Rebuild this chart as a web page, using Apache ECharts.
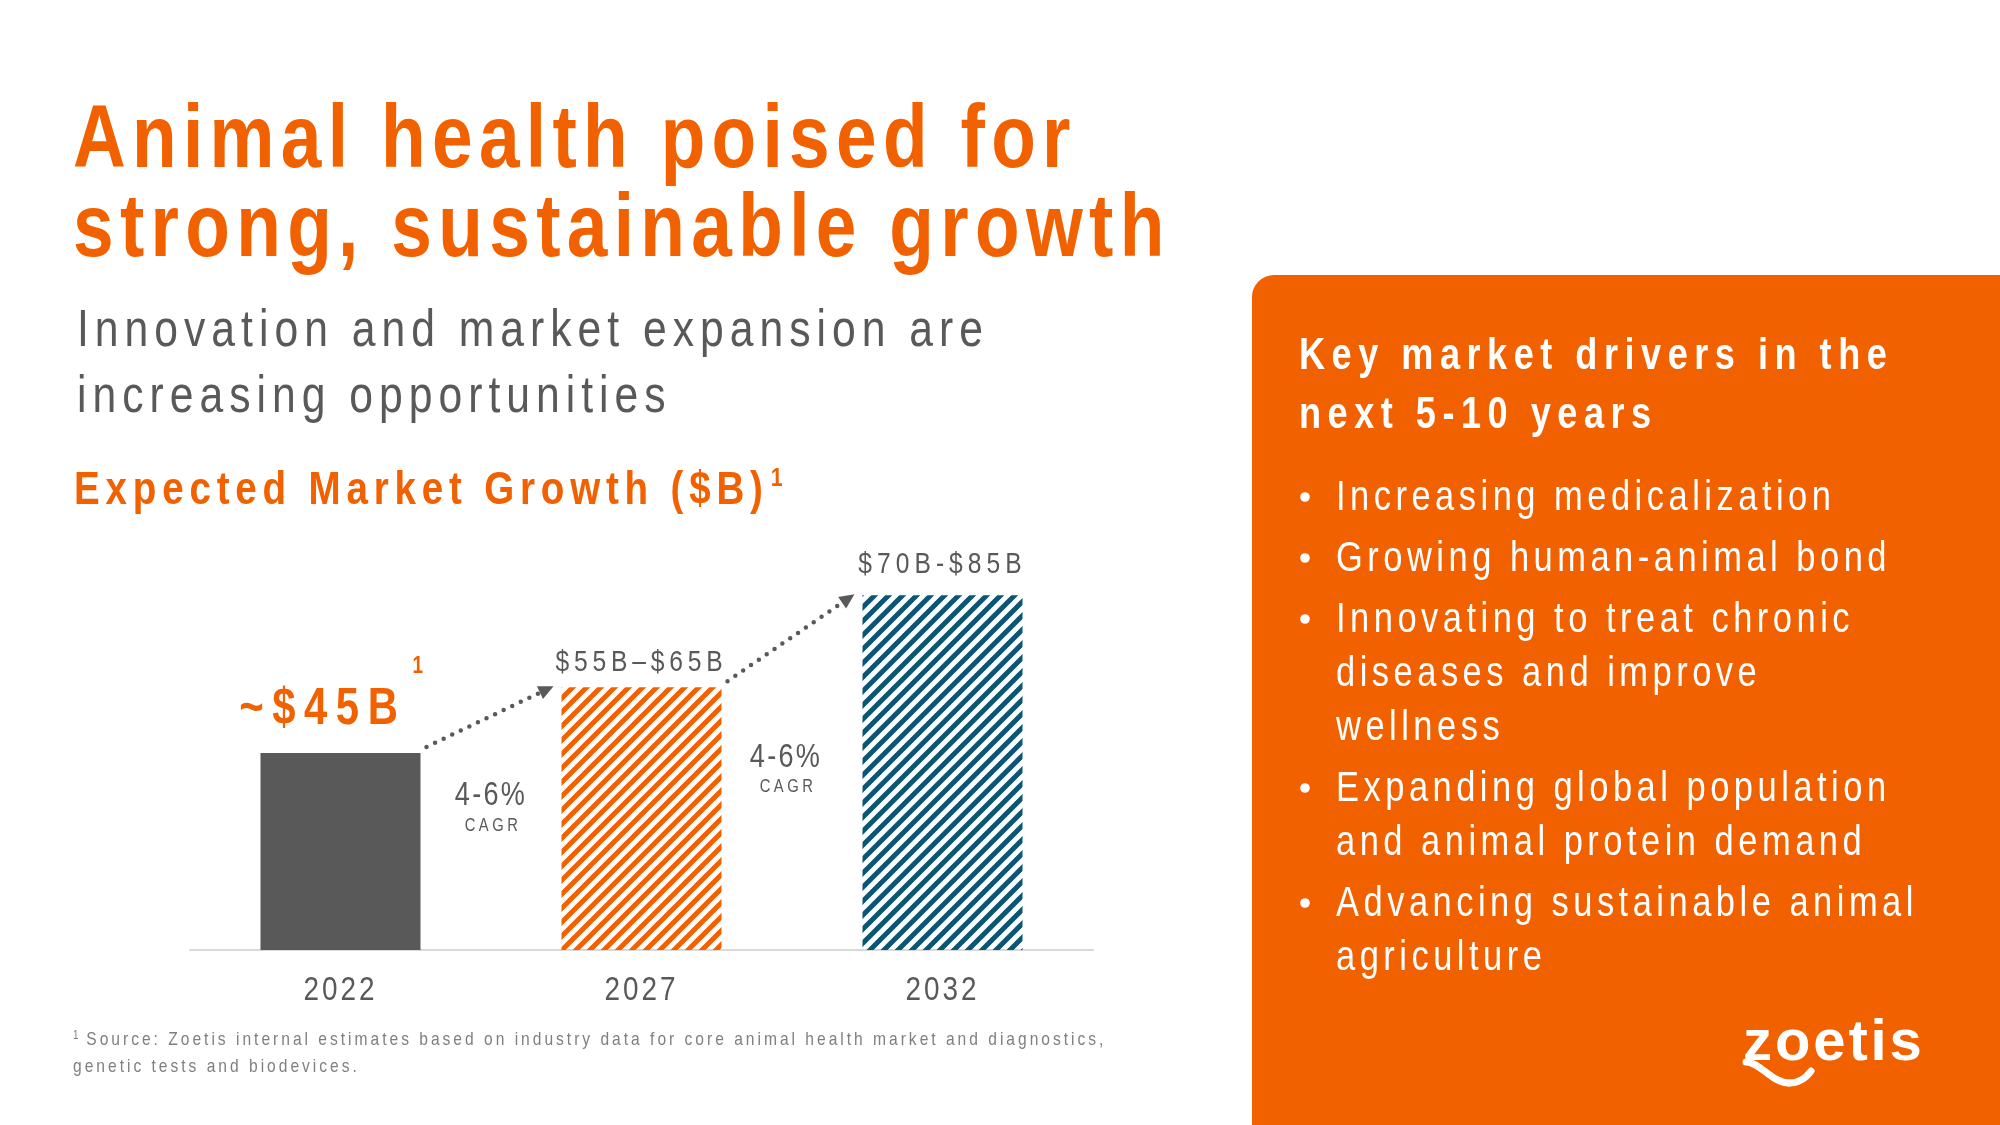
<!DOCTYPE html>
<html>
<head>
<meta charset="utf-8">
<script src="https://cdn.jsdelivr.net/npm/echarts@6.0.0/dist/echarts.min.js"></script>
<style>
html,body{margin:0;padding:0;background:#ffffff;}
#c{width:2000px;height:1125px;}
</style>
</head>
<body>
<div id="c"></div>
<script>
// ---- typographic helpers: family tokens "zspNNN" = NNN/1000 em tracking, "zcnNN" = NN% horizontal scale ----
(function () {
  var P = CanvasRenderingContext2D.prototype;
  function prep(ctx) {
    var f = ctx.font || '';
    var sz = /(\d+(?:\.\d+)?)px/.exec(f);
    var m = /zsp(\d+)/.exec(f);
    var c = /zcn(\d+)/.exec(f);
    if ('letterSpacing' in ctx) {
      ctx.letterSpacing = (m && sz) ? (parseFloat(sz[1]) * parseInt(m[1], 10) / 1000).toFixed(2) + 'px' : '0px';
    }
    return c ? parseInt(c[1], 10) / 100 : 1;
  }
  ['fillText', 'strokeText'].forEach(function (n) {
    var o = P[n];
    P[n] = function (text, x, y, mw) {
      var k = prep(this);
      if (k === 1) return (mw === undefined) ? o.call(this, text, x, y) : o.call(this, text, x, y, mw);
      this.save();
      this.translate(x, y);
      this.scale(k, 1);
      o.call(this, text, 0, 0);
      this.restore();
    };
  });
  var om = P.measureText;
  P.measureText = function (text) {
    var k = prep(this);
    var m = om.call(this, text);
    if (k === 1) return m;
    return {
      width: m.width * k,
      actualBoundingBoxLeft: m.actualBoundingBoxLeft * k,
      actualBoundingBoxRight: m.actualBoundingBoxRight * k,
      actualBoundingBoxAscent: m.actualBoundingBoxAscent,
      actualBoundingBoxDescent: m.actualBoundingBoxDescent,
      fontBoundingBoxAscent: m.fontBoundingBoxAscent,
      fontBoundingBoxDescent: m.fontBoundingBoxDescent
    };
  };
})();

// ---------------- data ----------------
const categories = ['2022', '2027', '2032'];
const marketValues = [45, 60, 81];
const barLabels = ['~$45B', '$55B\u2013$65B', '$70B-$85B'];
const cagrLabels = ['4-6%', '4-6%'];
const cagrSub = 'CAGR';
const titleLines = ['Animal health poised for', 'strong, sustainable growth'];
const subtitleLines = ['Innovation and market expansion are', 'increasing opportunities'];
const chartTitle = 'Expected Market Growth ($B)';
const panelTitleLines = ['Key market drivers in the', 'next 5-10 years'];
const drivers = [
  ['Increasing medicalization'],
  ['Growing human-animal bond'],
  ['Innovating to treat chronic', 'diseases and improve', 'wellness'],
  ['Expanding global population', 'and animal protein demand'],
  ['Advancing sustainable animal', 'agriculture']
];
const footnoteLines = [
  'Source: Zoetis internal estimates based on industry data for core animal health market and diagnostics,',
  'genetic tests and biodevices.'
];
const footnoteMark = '1';
const logoText = 'zoetis';

// ---------------- styles ----------------
const ORANGE = '#F26100';
const GREY = '#595959';
const BLUE = '#0A5673';
const NOTE = '#7F7F7F';
function fam(sp, cn) { return "'Liberation Sans',zsp" + sp + ",zcn" + (cn === undefined ? 82 : cn); }
const MID = 0.32;

function stripe(color) {
  const s = 14;
  const c = document.createElement('canvas');
  c.width = s; c.height = s;
  const g = c.getContext('2d');
  g.strokeStyle = color; g.lineWidth = 5;
  g.beginPath();
  [0, s, 2 * s].forEach(function (k) { g.moveTo(k - s - 2, s + 2); g.lineTo(k + 2, -2); });
  g.stroke();
  return { image: c, repeat: 'repeat' };
}
const fills = [GREY, stripe(ORANGE), stripe(BLUE)];

// text helper: positioned by baseline
function T(text, x, base, size, weight, color, sp, align) {
  return {
    type: 'text', x: x, y: base - MID * size, z: 10,
    style: {
      text: text, fill: color, fontSize: size, fontWeight: weight,
      fontFamily: fam(sp), align: align || 'left', verticalAlign: 'middle'
    }
  };
}

const chart = echarts.init(document.getElementById('c'), null, { renderer: 'canvas' });

const staticGraphics = [];
// right panel
staticGraphics.push({
  type: 'rect', z: 1,
  shape: { x: 1252, y: 275, width: 748, height: 850, r: [22, 0, 0, 0] },
  style: { fill: ORANGE }
});
// title
titleLines.forEach(function (t, i) { staticGraphics.push(T(t, 73, 171 + i * 89, 89, 'bold', ORANGE, 87)); });
// subtitle
subtitleLines.forEach(function (t, i) { staticGraphics.push(T(t, 77, 348 + i * 66, 52, 'normal', GREY, 141)); });
// chart title with superscript
staticGraphics.push({
  type: 'text', x: 74, y: 506 - MID * 47 - 23.5, z: 10,
  style: {
    text: '{a|' + chartTitle + '}{s|' + footnoteMark + '}',
    verticalAlign: 'top', align: 'left',
    rich: {
      a: { fontSize: 47, lineHeight: 47, fontWeight: 'bold', fill: ORANGE, fontFamily: fam(151) },
      s: { fontSize: 26, lineHeight: 26, fontWeight: 'bold', fill: ORANGE, fontFamily: fam(50), verticalAlign: 'top', padding: [0, 0, 0, 2] }
    }
  }
});
// footnote
staticGraphics.push({
  type: 'text', x: 73, y: 1046 - MID * 19 - 9.5, z: 10,
  style: {
    text: '{s|' + footnoteMark + '}{a| ' + footnoteLines[0] + '}',
    verticalAlign: 'top', align: 'left',
    rich: {
      a: { fontSize: 19, lineHeight: 19, fill: NOTE, fontFamily: fam(192) },
      s: { fontSize: 12, lineHeight: 12, fill: NOTE, fontFamily: fam(50), verticalAlign: 'top' }
    }
  }
});
staticGraphics.push(T(footnoteLines[1], 73, 1073, 19, 'normal', NOTE, 192));
// panel heading
panelTitleLines.forEach(function (t, i) { staticGraphics.push(T(t, 1299, 371 + i * 59, 44, 'bold', '#FFFFFF', 181)); });
// bullets
(function () {
  let base = 512;
  drivers.forEach(function (lines, bi) {
    if (bi > 0) base += 61;
    staticGraphics.push({ type: 'circle', z: 10, shape: { cx: 1305, cy: base - 15, r: 4.8 }, style: { fill: '#FFFFFF' } });
    lines.forEach(function (t, li) {
      if (li > 0) base += 54;
      staticGraphics.push(T(t, 1336, base, 42, 'normal', '#FFFFFF', 131));
    });
  });
})();
// logo
staticGraphics.push({
  type: 'text', x: 1743, y: 1063 - MID * 58, z: 10,
  style: { text: logoText, fill: '#FFFFFF', fontSize: 58, fontWeight: 'bold', fontFamily: fam(50, 100), align: 'left', verticalAlign: 'middle' }
});
staticGraphics.push({
  type: 'bezierCurve', z: 11,
  shape: { x1: 1746, y1: 1062, cpx1: 1760, cpy1: 1062, cpx2: 1772, cpy2: 1083, x2: 1789, y2: 1083 },
  style: { stroke: '#FFFFFF', lineWidth: 7, fill: null, lineCap: 'round' }
});
staticGraphics.push({
  type: 'bezierCurve', z: 11,
  shape: { x1: 1789, y1: 1083, cpx1: 1800, cpy1: 1083, cpx2: 1806, cpy2: 1078, x2: 1811, y2: 1071 },
  style: { stroke: '#FFFFFF', lineWidth: 7, fill: null, lineCap: 'round' }
});

// bar labels
const labelCfg = [
  {
    show: true, position: 'top', distance: 0, offset: [-9, 10],
    formatter: '{a|' + barLabels[0] + '}{s|' + footnoteMark + '}',
    rich: {
      a: { fontSize: 51, lineHeight: 106, fontWeight: 'bold', color: ORANGE, fontFamily: fam(205) },
      s: { fontSize: 23, lineHeight: 23, fontWeight: 'bold', color: ORANGE, fontFamily: fam(50), verticalAlign: 'top', padding: [0, 0, 0, 6] }
    }
  },
  { show: true, position: 'top', distance: 9.5, formatter: barLabels[1], fontSize: 30, lineHeight: 30, color: GREY, fontFamily: fam(196) },
  { show: true, position: 'top', distance: 15.5, formatter: barLabels[2], fontSize: 30, lineHeight: 30, color: GREY, fontFamily: fam(205) }
];

const option = {
  animation: false,
  backgroundColor: '#FFFFFF',
  grid: { left: 190, right: 907, top: 512, bottom: 175, containLabel: false },
  xAxis: {
    type: 'category', data: categories,
    axisTick: { show: false },
    axisLine: { lineStyle: { color: '#D9D9D9', width: 2 } },
    axisLabel: { color: GREY, fontSize: 34, lineHeight: 34, fontFamily: fam(108), margin: 24 }
  },
  yAxis: { type: 'value', min: 0, max: 100, show: false },
  series: [{
    type: 'bar', barWidth: 160,
    data: marketValues.map(function (v, i) { return { value: v, itemStyle: { color: fills[i] }, label: labelCfg[i] }; })
  }],
  graphic: staticGraphics
};
chart.setOption(option);

// arrows and CAGR annotations positioned from the chart's own scales
(function () {
  const half = 80;
  const pts = marketValues.map(function (v, i) { return chart.convertToPixel({ seriesIndex: 0 }, [i, v]); });
  const extra = [];
  const cagrOffsets = [54, 81];
  const cagrShift = [0, -6];
  for (let i = 0; i < pts.length - 1; i++) {
    const sx = pts[i][0] + half + 6, sy = pts[i][1] - 6;
    const tx = pts[i + 1][0] - half - 8, ty = pts[i + 1][1] - 1;
    const dx = tx - sx, dy = ty - sy, len = Math.sqrt(dx * dx + dy * dy);
    const ux = dx / len, uy = dy / len;
    const hl = 15, hw = 7;
    const bx = tx - ux * hl, by = ty - uy * hl;
    extra.push({
      type: 'line', z: 12,
      shape: { x1: sx, y1: sy, x2: bx, y2: by },
      style: { stroke: GREY, lineWidth: 4.5, lineDash: [0, 9.5], lineCap: 'round' }
    });
    extra.push({
      type: 'polygon', z: 12,
      shape: { points: [[tx, ty], [bx - uy * hw, by + ux * hw], [bx + uy * hw, by - ux * hw]] },
      style: { fill: GREY }
    });
    const cx = (pts[i][0] + pts[i + 1][0]) / 2 + cagrShift[i];
    const base = pts[i][1] + cagrOffsets[i];
    extra.push(T(cagrLabels[i], cx, base, 33, 'normal', GREY, 86, 'center'));
    extra.push(T(cagrSub, cx + 2, base + 25, 18, 'normal', GREY, 235, 'center'));
  }
  chart.setOption({ graphic: staticGraphics.concat(extra) });
})();
</script>
</body>
</html>
